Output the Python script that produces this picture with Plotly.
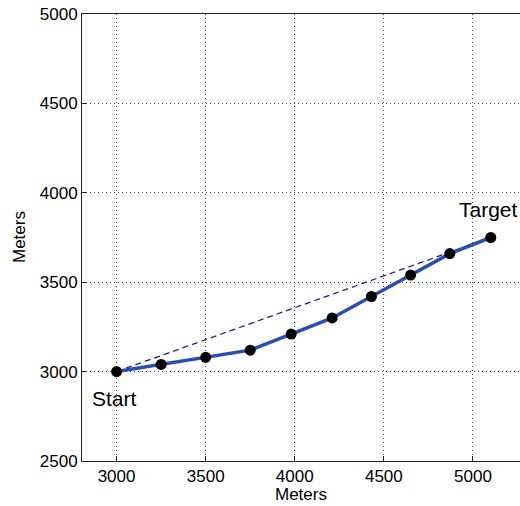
import plotly.graph_objects as go

# Path waypoints (meters)
path_x = [3000, 3250, 3500, 3750, 3980, 4210, 4430, 4650, 4870, 5100]
path_y = [3000, 3040, 3080, 3120, 3210, 3300, 3420, 3540, 3660, 3750]

# Straight reference line Start -> Target
direct_x = [3000, 5100]
direct_y = [3000, 3750]

labels = ["Start", "Target"]
label_x = [2850, 4910]
label_y = [2851, 3908]

x_ticks = [3000, 3500, 4000, 4500, 5000]
y_ticks = [2500, 3000, 3500, 4000, 4500, 5000]

FONT = "Liberation Sans, Arial, sans-serif"

fig = go.Figure()
fig.add_trace(go.Scatter(
    x=direct_x, y=direct_y, mode="lines",
    line=dict(color="#1a237e", width=1.3, dash="6px,4px"),
    showlegend=False, hoverinfo="skip",
))
fig.add_trace(go.Scatter(
    x=path_x, y=path_y, mode="lines+markers",
    line=dict(color="#2b4cb0", width=3.5),
    marker=dict(color="black", size=11),
    showlegend=False,
))

for t, xx, yy in zip(labels, label_x, label_y):
    fig.add_annotation(x=xx, y=yy, text=t, showarrow=False,
                       xanchor="left", yanchor="middle",
                       font=dict(family=FONT, size=21, color="black"))

# Axis titles (x title centred on the visible part of the axes)
fig.add_annotation(x=4035, y=0, xref="x", yref="paper", text="Meters",
                   showarrow=False, xanchor="center", yanchor="top", yshift=-22,
                   font=dict(family=FONT, size=17, color="black"))
fig.add_annotation(x=0, y=0.5, xref="paper", yref="paper", text="Meters",
                   showarrow=False, xanchor="right", yanchor="middle", xshift=-51,
                   textangle=-90,
                   font=dict(family=FONT, size=17, color="black"))

axis_common = dict(
    showline=True, linecolor="#222", linewidth=1,
    showgrid=True, gridcolor="#444", griddash="1px,3px", gridwidth=1,
    ticks="inside", ticklen=5, tickcolor="#222",
    zeroline=False,
    tickfont=dict(family=FONT, size=17, color="black"),
)

fig.update_xaxes(range=[2806, 5320], tickvals=x_ticks, mirror=True, **axis_common)
fig.update_yaxes(range=[2500, 5000], tickvals=y_ticks, mirror=False, **axis_common)

# The axes run past the right edge of the window, as in the reference.
fig.update_layout(
    width=530, height=506,
    margin=dict(l=82, r=0, t=14, b=45),
    paper_bgcolor="white", plot_bgcolor="white",
    font=dict(family=FONT),
)

fig.write_html("out.html",
               config={"displayModeBar": False},
               post_script="document.body.style.margin='0';document.body.style.overflow='hidden';")
